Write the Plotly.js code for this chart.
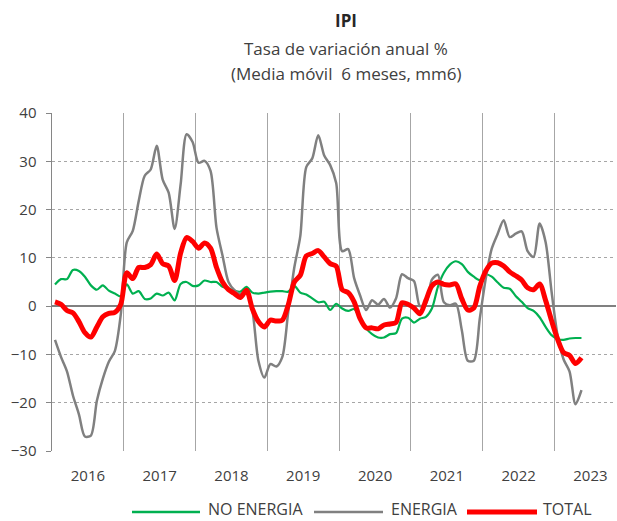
<!DOCTYPE html>
<html>
<head>
<meta charset="utf-8">
<script src="https://cdn.plot.ly/plotly-3.0.1.min.js"></script>
<style>html,body{margin:0;padding:0;background:#fff;}#chart{width:617px;height:521px;}</style>
</head>
<body>
<div id="chart"></div>
<script>
// Monthly data, Jan 2016 .. May 2023
const years = ['2016', '2017', '2018', '2019', '2020', '2021', '2022', '2023'];

const noEnergia = [
  4.5, 5.6, 5.6, 7.5, 7.3, 6.1, 4.3, 3.4, 4.3, 3.2, 2.6, 2.0,
  4.5, 2.6, 3.1, 1.5, 1.6, 2.6, 2.2, 2.8, 1.2, 4.6, 5.0, 4.2,
  4.3, 5.3, 5.0, 5.0, 4.0, 3.7, 3.2, 3.0, 4.0, 2.8, 2.6, 2.8,
  3.0, 3.1, 3.1, 3.0, 4.2, 2.8, 2.4, 1.6, 0.8, 0.9, -0.8, 0.5,
  -0.5, -1.0, -0.6, -2.6, -4.6, -5.8, -6.5, -6.5, -5.8, -5.6, -2.6, -2.4,
  -3.4, -2.6, -2.2, -0.5, 4.0, 6.9, 8.6, 9.3, 8.7, 7.1, 6.1, 5.4,
  6.6, 6.1, 4.9, 3.8, 3.6, 2.1, 0.9, -0.4, -1.0, -2.3, -4.3, -6.0,
  -6.8, -7.0, -6.7, -6.6, -6.6
];

const energia = [
  -7.0, -10.5, -13.5, -18.5, -22.4, -27.0, -26.8, -19.6, -15.0, -11.5, -9.3, -1.7,
  13.2, 15.6, 21.8, 27.0, 28.3, 33.2, 26.2, 23.5, 16.0, 25.2, 35.6, 34.0,
  29.7, 30.1, 28.0, 16.2, 10.5, 5.0, 3.3, 2.5, 3.0, -1.0, -11.3, -14.8,
  -12.0, -12.5, -10.5, -1.0, 8.0, 14.5, 28.8, 30.6, 35.4, 31.2, 29.2, 25.5,
  11.4, 11.8, 5.8, 2.2, -0.8, 1.2, 0.3, 1.5, -0.3, 1.6, 6.6, 5.8,
  5.2, 0.0, 0.5, 5.5, 6.5, 0.8, 0.2, 0.5, -5.0, -11.3, -11.3, -2.6,
  5.7, 11.9, 15.0, 17.8, 14.3, 15.0, 15.5, 11.4, 10.2, 17.1, 13.3, 3.0,
  -6.0, -11.0, -13.5, -20.3, -17.4
];

const total = [
  0.9, 0.4, -0.9, -1.4, -3.2, -5.5, -6.4, -4.3, -2.2, -1.5, -1.3, 0.4,
  6.9, 5.7, 8.0, 8.0, 8.6, 10.8, 8.8, 8.3, 5.3, 11.0, 14.2, 13.4,
  12.0, 13.1, 12.0, 8.0, 5.0, 3.4, 2.6, 1.8, 3.3, -0.6, -3.2, -4.3,
  -2.9, -3.1, -2.9, 0.3, 5.0, 6.4, 10.4, 10.9, 11.5, 10.2, 8.8, 8.3,
  3.4, 2.8, 0.9, -2.6, -4.5, -4.5, -4.7, -3.9, -3.7, -3.4, 0.7, 0.4,
  -0.4, -1.6, 1.2, 4.2, 5.0, 4.5, 4.4, 4.6, 1.5, -0.8, -0.4, 4.1,
  7.3, 8.9, 9.0, 8.3, 7.1, 6.3, 5.4, 3.8, 3.4, 4.6, 1.2, -3.0,
  -6.8, -9.6, -10.2, -11.9, -10.7
];

const seriesNames = ['NO ENERGIA', 'ENERGIA', 'TOTAL'];
const seriesColors = ['#00b050', '#808080', '#ff0000'];
const seriesWidths = [2.2, 2.5, 5];
const seriesData = [noEnergia, energia, total];

const monthIdx = total.map((_, i) => i);
const yearCenters = years.map((_, k) => 12 * k + 5.5);
const yearBounds = years.slice(1).map((_, k) => 12 * (k + 1) - 0.5);

const traces = seriesData.map((vals, s) => ({
  type: 'scatter', mode: 'lines', name: seriesNames[s],
  x: monthIdx, y: vals,
  line: { color: seriesColors[s], width: seriesWidths[s], shape: 'spline', smoothing: 0.8 },
  hoverinfo: 'x+y', showlegend: false
}));

const textColor = '#404040';
const font = 'Open Sans, sans-serif';

// custom legend
const legendLineY = (451 - 512) / 338;
const legendTextY = (451 - 509) / 338;
const legendItems = [
  { x0: 132, x1: 200, tx: 207 },
  { x0: 314, x1: 383, tx: 390 },
  { x0: 467, x1: 537, tx: 542 }
];
const px2paper = p => (p - 52) / 564;
const shapes = legendItems.map((it, s) => ({
  type: 'line', xref: 'paper', yref: 'paper',
  x0: px2paper(it.x0), x1: px2paper(it.x1), y0: legendLineY, y1: legendLineY,
  line: { color: seriesColors[s], width: s === 2 ? 5 : 2.5 }
}));
const annotations = legendItems.map((it, s) => ({
  xref: 'paper', yref: 'paper', x: px2paper(it.tx), y: legendTextY,
  xanchor: 'left', yanchor: 'middle', showarrow: false, borderpad: 0,
  text: seriesNames[s], font: { family: font, size: 16, color: textColor }
}));
annotations.push(
  { xref: 'paper', yref: 'paper', x: px2paper(346), y: (451 - 21) / 338, xanchor: 'center', yanchor: 'middle',
    showarrow: false, text: '<b>IPI</b>', font: { family: font, size: 17, color: '#262626' } },
  { xref: 'paper', yref: 'paper', x: px2paper(346), y: (451 - 48) / 338, xanchor: 'center', yanchor: 'middle',
    showarrow: false, text: 'Tasa de variación anual %', font: { family: font, size: 17, color: textColor } },
  { xref: 'paper', yref: 'paper', x: px2paper(346), y: (451 - 73) / 338, xanchor: 'center', yanchor: 'middle',
    showarrow: false, text: '(Media móvil  6 meses, mm6)', font: { family: font, size: 17, color: textColor } }
);

const layout = {
  width: 617, height: 521,
  margin: { l: 52, r: 1, t: 113, b: 70, pad: 0 },
  paper_bgcolor: '#ffffff', plot_bgcolor: '#ffffff',
  showlegend: false,
  xaxis: {
    range: [-0.5, 93.77], fixedrange: true,
    tickmode: 'array', tickvals: yearCenters, ticktext: years,
    showgrid: false, zeroline: false, showline: false, ticks: '',
    ticklabelstandoff: 14,
    tickfont: { family: font, size: 15, color: textColor },
    minor: { tickmode: 'array', tickvals: yearBounds, showgrid: true, gridcolor: '#a6a6a6', gridwidth: 1, ticks: '' }
  },
  yaxis: {
    range: [-30, 40], fixedrange: true,
    tickmode: 'array', tickvals: [-30, -20, -10, 0, 10, 20, 30, 40],
    ticks: 'outside', ticklen: 5, tickcolor: '#868686', tickwidth: 1,
    showgrid: true, gridcolor: '#a6a6a6', griddash: 'dot', gridwidth: 1,
    zeroline: true, zerolinecolor: '#808080', zerolinewidth: 1.5,
    showline: true, linecolor: '#868686', linewidth: 1.5,
    ticklabelstandoff: 6,
    tickfont: { family: font, size: 15, color: textColor }
  },
  shapes: shapes,
  annotations: annotations
};

Plotly.newPlot('chart', traces, layout, { displayModeBar: false, staticPlot: true });
</script>
</body>
</html>
